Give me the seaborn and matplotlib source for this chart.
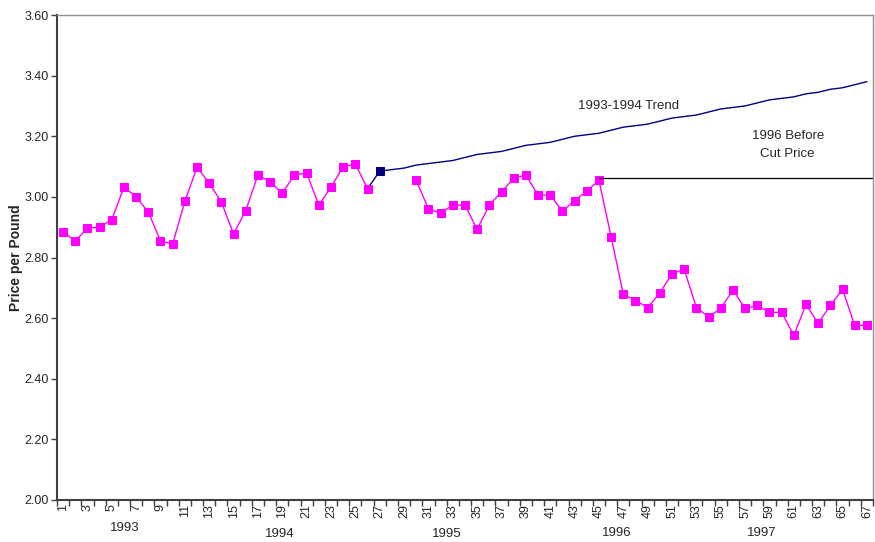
import numpy as np
import pandas as pd
import matplotlib
matplotlib.use('Agg')
import matplotlib.pyplot as plt
import matplotlib.transforms as mtransforms
import seaborn as sns

# Monthly price per pound, periods 1..67 (27-29 not in the magenta series)
periods = list(range(1, 68))
price = [2.885, 2.854, 2.897, 2.900, 2.925, 3.032, 3.000, 2.950, 2.855, 2.845,
         2.985, 3.098, 3.045, 2.983, 2.878, 2.955, 3.072, 3.049, 3.013, 3.072,
         3.079, 2.973, 3.032, 3.100, 3.108, 3.027, np.nan, np.nan, np.nan, 3.055,
         2.960, 2.947, 2.973, 2.973, 2.893, 2.973, 3.016, 3.062, 3.072, 3.006,
         3.006, 2.953, 2.988, 3.019, 3.055, 2.868, 2.679, 2.658, 2.635, 2.683,
         2.747, 2.761, 2.635, 2.604, 2.632, 2.693, 2.632, 2.642, 2.619, 2.619,
         2.543, 2.645, 2.583, 2.642, 2.695, 2.576, 2.576]

# 1993-1994 trend, periods 26..67 (first point is the last actual value)
trend_periods = list(range(26, 68))
trend = [3.027, 3.085, 3.090, 3.095, 3.105, 3.110, 3.115, 3.120, 3.130, 3.140,
         3.145, 3.150, 3.160, 3.170, 3.175, 3.180, 3.190, 3.200, 3.205, 3.210,
         3.220, 3.230, 3.235, 3.240, 3.250, 3.260, 3.265, 3.270, 3.280, 3.290,
         3.295, 3.300, 3.310, 3.320, 3.325, 3.330, 3.340, 3.345, 3.355, 3.360,
         3.370, 3.380]

before_cut_price = 3.062
before_cut_start = 45

years = ['1993', '1994', '1995', '1996', '1997']
year_x = [6.1, 18.8, 32.5, 46.5, 58.4]
year_y = [-0.057, -0.070, -0.070, -0.068, -0.068]

df = pd.DataFrame({'period': periods, 'price': price})
seg1 = df[df['period'] <= 26]
seg2 = df[df['period'] >= 30]
tr = pd.DataFrame({'period': trend_periods, 'price': trend})

sns.set_theme(style='white')
plt.rcParams['font.family'] = ['Liberation Sans', 'DejaVu Sans']

fig = plt.figure(figsize=(8.75, 5.42), dpi=100)
ax = fig.add_axes([0.0651, 0.0775, 0.9326, 0.8948])

magenta = '#FF00FF'
navy = '#000080'

# trend line with the marker on period 27 only
sns.lineplot(data=tr, x='period', y='price', ax=ax, color=navy, linewidth=1,
             marker='s', markersize=5.5, markeredgecolor=navy, markevery=[1],
             estimator=None, sort=False)

for seg in (seg1, seg2):
    sns.lineplot(data=seg, x='period', y='price', ax=ax, color=magenta,
                 linewidth=1, marker='s', markersize=5.8,
                 markeredgecolor=magenta, estimator=None, sort=False)

ax.hlines(before_cut_price, before_cut_start, 67.5, color='#000000', linewidth=0.9)

ax.set_xlim(0.5, 67.5)
ax.set_ylim(2.0, 3.6)
ax.set_yticks(np.arange(2.0, 3.61, 0.2))
ax.set_yticklabels([f'{v:.2f}' for v in np.arange(2.0, 3.61, 0.2)], fontsize=9)

ax.set_xticks(periods[::2])
ax.set_xticklabels([str(p) for p in periods[::2]], rotation=90, fontsize=9)
ax.set_xticks(np.arange(0.5, 68, 1), minor=True)
ax.tick_params(axis='x', which='major', length=0, pad=3)
ax.tick_params(axis='x', which='minor', length=4, width=1, color='#404040', direction='out')
ax.tick_params(axis='y', length=4, width=1, color='#404040', direction='out', pad=2)
ax.tick_params(bottom=True, left=True, which='both')

ax.set_xlabel('')
ax.set_ylabel('Price per Pound', fontsize=10, fontweight='bold', labelpad=1)

for s in ('left', 'bottom'):
    ax.spines[s].set_color('#404040')
    ax.spines[s].set_linewidth(1.5)
for s in ('top', 'right'):
    ax.spines[s].set_color('#909090')
    ax.spines[s].set_linewidth(1)

ax.text(47.4, 3.30, '1993-1994 Trend', fontsize=9.5, ha='center', va='center')
ax.text(60.5, 3.172, '1996 Before\nCut Price', fontsize=9.5, ha='center', va='center',
        linespacing=1.7)

trans = mtransforms.blended_transform_factory(ax.transData, ax.transAxes)
for lab, x, y in zip(years, year_x, year_y):
    ax.text(x, y, lab, transform=trans, fontsize=9.5, ha='center', va='center')

fig.savefig('out.png', dpi=100)
